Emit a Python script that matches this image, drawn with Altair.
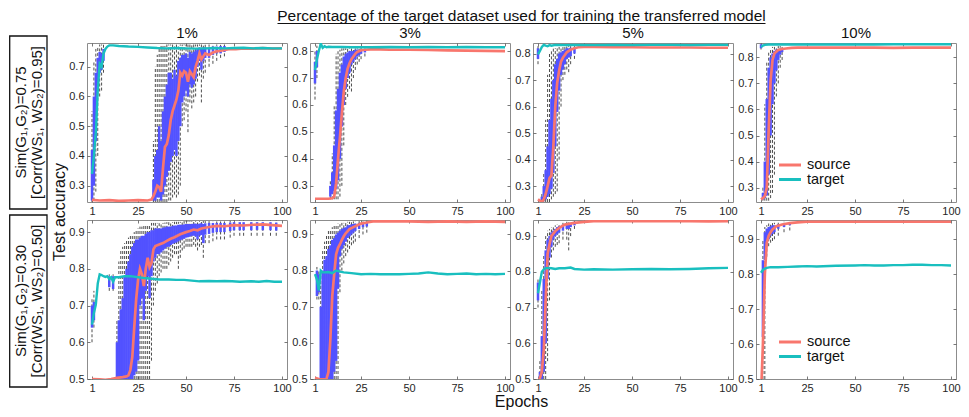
import altair as alt
import pandas as pd

SRC_COLOR = "#F8766D"
TGT_COLOR = "#19BFBF"
BOX_COLOR = "#5252ff"
FONT = "Liberation Sans"

main_title = "Percentage of the target dataset used for training the transferred model"
col_titles = ["1%", "3%", "5%", "10%"]
row_line1 = ["Sim(G\u2081,G\u2082)=0.75", "Sim(G\u2081,G\u2082)=0.30"]
row_line2 = ["[Corr(WS\u2081, WS\u2082)=0.95]", "[Corr(WS\u2081, WS\u2082)=0.50]"]
y_title = "Test accuracy"
x_title = "Epochs"
legend_labels = ["source", "target"]
x_ticks = [1, 25, 50, 75, 100]

# ---------- row 1 (Sim=0.75) ----------
p11_source = [(1,0.252),(5,0.250),(10,0.251),(15,0.249),(20,0.250),(25,0.251),(30,0.250),(32,0.253),
              (33,0.265),(34,0.280),(35,0.300),(36,0.295),(37,0.280),(38,0.360),(39,0.430),(40,0.440),
              (41,0.470),(42,0.520),(43,0.550),(44,0.570),(45,0.590),(46,0.620),(47,0.680),(48,0.670),
              (49,0.685),(50,0.680),(51,0.650),(52,0.685),(53,0.675),(54,0.665),(55,0.700),(56,0.720),
              (57,0.745),(58,0.725),(59,0.735),(60,0.745),(62,0.740),(64,0.748),(66,0.752),(68,0.754),
              (70,0.757),(73,0.760),(76,0.759),(80,0.762),(85,0.761),(90,0.763),(95,0.761),(100,0.762)]
p11_target = [(1,0.34),(2,0.40),(3,0.48),(4,0.62),(5,0.71),(6,0.70),(7,0.745),(8,0.76),(9,0.768),(10,0.772),
              (12,0.772),(15,0.770),(20,0.768),(25,0.767),(30,0.765),(35,0.763),(40,0.762),(45,0.763),
              (50,0.762),(55,0.761),(60,0.762),(65,0.763),(70,0.762),(75,0.763),(80,0.764),(85,0.762),
              (90,0.763),(95,0.762),(100,0.762)]
# (epoch, q1, q3, whisker low, whisker high)
p11_boxes = [(1,0.25,0.42,0.245,0.55),(2,0.30,0.60,0.25,0.72),(3,0.45,0.68,0.28,0.76),(4,0.62,0.73,0.40,0.77),
             (5,0.68,0.75,0.60,0.775),(6,0.69,0.745,0.62,0.775),(7,0.72,0.76,0.68,0.775),
             (33,0.25,0.32,0.245,0.45),(34,0.25,0.40,0.245,0.70),(35,0.26,0.42,0.245,0.74),(36,0.26,0.50,0.245,0.76),
             (37,0.25,0.45,0.245,0.77),(38,0.27,0.55,0.245,0.77),(39,0.30,0.60,0.245,0.77),(40,0.33,0.64,0.245,0.775),
             (41,0.35,0.68,0.25,0.775),(42,0.38,0.68,0.25,0.775),(43,0.40,0.66,0.26,0.775),(44,0.42,0.69,0.27,0.775),
             (45,0.40,0.67,0.26,0.775),(46,0.45,0.72,0.27,0.775),(47,0.50,0.73,0.30,0.775),(48,0.58,0.74,0.50,0.775),
             (49,0.60,0.74,0.52,0.775),(50,0.62,0.745,0.55,0.775),(51,0.60,0.73,0.48,0.775),(52,0.64,0.75,0.58,0.775),
             (53,0.63,0.745,0.56,0.775),(54,0.64,0.75,0.58,0.775),(55,0.66,0.755,0.60,0.775),(56,0.70,0.76,0.65,0.775),
             (57,0.72,0.765,0.67,0.775),(58,0.69,0.76,0.58,0.775),(59,0.72,0.765,0.66,0.775),(60,0.73,0.765,0.68,0.775),
             (62,0.73,0.765,0.70,0.775),(64,0.74,0.768,0.71,0.775),(66,0.745,0.768,0.72,0.775),(68,0.745,0.77,0.73,0.775),
             (70,0.75,0.77,0.735,0.775)]

p12_source = [(1,0.252),(5,0.252),(8,0.252),(10,0.254),(11,0.26),(12,0.31),(13,0.40),(14,0.48),(15,0.57),(16,0.65),
              (17,0.70),(18,0.735),(19,0.755),(20,0.77),(21,0.78),(22,0.79),(23,0.797),(25,0.803),(27,0.805),(30,0.806),
              (35,0.806),(40,0.805),(50,0.805),(60,0.804),(70,0.803),(80,0.802),(90,0.801),(100,0.80)]
p12_target = [(1,0.73),(2,0.77),(3,0.80),(4,0.828),(5,0.812),(6,0.818),(7,0.814),(8,0.816),(10,0.815),(15,0.815),
              (20,0.814),(30,0.814),(40,0.815),(50,0.814),(60,0.815),(70,0.814),(80,0.815),(90,0.814),(100,0.814)]
p12_boxes = [(1,0.68,0.76,0.62,0.80),(2,0.74,0.80,0.70,0.82),(9,0.26,0.30,0.25,0.32),(10,0.27,0.35,0.25,0.42),
             (11,0.28,0.45,0.25,0.60),(12,0.29,0.58,0.25,0.79),(13,0.32,0.66,0.25,0.80),(14,0.40,0.72,0.26,0.805),
             (15,0.52,0.75,0.30,0.81),(16,0.60,0.78,0.45,0.81),(17,0.66,0.79,0.60,0.81),(18,0.70,0.795,0.63,0.81),
             (19,0.72,0.80,0.66,0.81),(20,0.75,0.80,0.65,0.81),(21,0.76,0.80,0.70,0.81),(22,0.77,0.805,0.73,0.81),
             (23,0.78,0.805,0.75,0.81),(24,0.785,0.805,0.76,0.812),(25,0.79,0.806,0.77,0.812),(27,0.795,0.807,0.78,0.812)]

p13_source = [(1,0.25),(2,0.245),(3,0.24),(4,0.25),(5,0.27),(6,0.30),(7,0.33),(8,0.34),(9,0.45),(10,0.60),(11,0.69),
              (12,0.735),(13,0.77),(14,0.785),(15,0.795),(16,0.805),(18,0.815),(20,0.82),(22,0.824),(25,0.825),
              (30,0.825),(40,0.824),(50,0.824),(60,0.823),(70,0.823),(80,0.823),(90,0.822),(100,0.822)]
p13_target = [(1,0.797),(2,0.81),(3,0.825),(4,0.833),(5,0.83),(6,0.828),(7,0.832),(8,0.83),(10,0.833),(15,0.832),
              (20,0.833),(30,0.832),(40,0.833),(50,0.832),(60,0.833),(70,0.833),(80,0.832),(90,0.833),(100,0.833)]
p13_boxes = [(1,0.78,0.82,0.76,0.83),(3,0.24,0.26,0.24,0.27),(4,0.245,0.30,0.24,0.35),(5,0.25,0.36,0.24,0.55),
             (6,0.26,0.45,0.24,0.72),(7,0.27,0.55,0.24,0.80),(8,0.29,0.63,0.25,0.81),(9,0.35,0.70,0.26,0.82),
             (10,0.45,0.76,0.27,0.82),(11,0.58,0.78,0.28,0.82),(12,0.66,0.80,0.40,0.825),(13,0.72,0.805,0.60,0.825),
             (14,0.74,0.81,0.70,0.825),(15,0.76,0.815,0.72,0.825),(16,0.78,0.82,0.74,0.828),(17,0.785,0.82,0.73,0.828),
             (18,0.79,0.822,0.76,0.828),(20,0.80,0.823,0.78,0.828)]

p14_source = [(1,0.255),(2,0.26),(3,0.268),(4,0.30),(5,0.52),(6,0.71),(7,0.79),(8,0.815),(9,0.822),(10,0.828),
              (12,0.832),(14,0.834),(17,0.836),(20,0.837),(30,0.837),(40,0.837),(50,0.837),(60,0.837),(70,0.836),
              (80,0.837),(90,0.837),(100,0.837)]
p14_target = [(1,0.84),(2,0.845),(3,0.848),(5,0.849),(10,0.849),(20,0.849),(30,0.849),(40,0.849),(50,0.849),
              (60,0.849),(70,0.85),(80,0.85),(90,0.85),(100,0.85)]
p14_boxes = [(1,0.835,0.85,0.83,0.852),(2,0.255,0.28,0.25,0.30),(3,0.26,0.40,0.25,0.62),(4,0.27,0.64,0.25,0.78),
             (5,0.35,0.76,0.25,0.82),(6,0.50,0.80,0.26,0.835),(7,0.62,0.815,0.28,0.84),(8,0.70,0.825,0.35,0.84),
             (9,0.75,0.83,0.65,0.842),(10,0.79,0.832,0.70,0.843),(11,0.81,0.834,0.76,0.843),(12,0.82,0.835,0.79,0.844)]

# ---------- row 2 (Sim=0.30) ----------
p21_source = [(1,0.50),(5,0.499),(8,0.498),(11,0.50),(14,0.503),(17,0.505),(19,0.507),(20,0.51),(21,0.525),
              (22,0.56),(23,0.64),(24,0.716),(25,0.77),(26,0.80),(27,0.785),(28,0.753),(29,0.80),(30,0.83),
              (31,0.805),(32,0.816),(33,0.853),(34,0.862),(36,0.866),(38,0.87),(40,0.876),(42,0.882),(44,0.886),
              (47,0.894),(50,0.90),(52,0.903),(54,0.907),(56,0.905),(58,0.91),(62,0.914),(66,0.917),(70,0.916),
              (75,0.919),(80,0.918),(85,0.92),(90,0.921),(95,0.919),(100,0.917)]
p21_target = [(1,0.648),(2,0.68),(3,0.703),(4,0.76),(5,0.785),(6,0.783),(7,0.78),(8,0.778),(9,0.78),(10,0.772),
              (11,0.777),(12,0.765),(13,0.777),(15,0.777),(18,0.78),(21,0.78),(25,0.777),(28,0.775),(32,0.773),
              (36,0.771),(41,0.771),(45,0.77),(49,0.77),(53,0.768),(57,0.766),(62,0.767),(66,0.766),(70,0.767),
              (74,0.766),(78,0.765),(84,0.766),(88,0.765),(92,0.767),(96,0.765),(100,0.765)]
p21_boxes = [(1,0.64,0.70,0.60,0.72),(2,0.66,0.71,0.64,0.74),(10,0.75,0.78,0.74,0.785),(12,0.745,0.78,0.74,0.785),
             (14,0.50,0.60,0.50,0.66),(15,0.50,0.66,0.50,0.82),(16,0.50,0.69,0.50,0.85),(17,0.50,0.72,0.50,0.86),
             (18,0.50,0.78,0.50,0.87),(19,0.50,0.80,0.50,0.88),(20,0.50,0.82,0.50,0.885),(21,0.50,0.84,0.50,0.89),
             (22,0.50,0.86,0.50,0.895),(23,0.51,0.87,0.50,0.90),(24,0.52,0.88,0.50,0.905),(25,0.55,0.88,0.50,0.91),
             (26,0.70,0.885,0.50,0.915),(27,0.72,0.89,0.50,0.915),(28,0.66,0.89,0.50,0.92),(29,0.74,0.895,0.50,0.92),
             (30,0.78,0.90,0.50,0.92),(31,0.72,0.90,0.50,0.92),(32,0.78,0.905,0.55,0.925),(33,0.82,0.905,0.70,0.925),
             (34,0.83,0.91,0.74,0.925),(35,0.84,0.91,0.76,0.925),(36,0.84,0.91,0.78,0.925),(37,0.845,0.91,0.79,0.925),
             (38,0.85,0.912,0.80,0.925),(39,0.855,0.913,0.80,0.926),(40,0.86,0.915,0.80,0.927),(41,0.86,0.915,0.81,0.927),
             (42,0.865,0.915,0.82,0.927),(43,0.868,0.917,0.83,0.927),(44,0.87,0.918,0.84,0.928),(45,0.872,0.918,0.84,0.928),
             (46,0.875,0.92,0.80,0.928),(47,0.878,0.92,0.83,0.928),(48,0.88,0.92,0.85,0.928),(49,0.882,0.921,0.855,0.93),
             (50,0.885,0.922,0.86,0.93),(51,0.886,0.922,0.86,0.93),(52,0.888,0.922,0.86,0.93),(53,0.89,0.922,0.86,0.93),
             (54,0.89,0.923,0.865,0.93),(55,0.888,0.923,0.86,0.93),(56,0.88,0.922,0.85,0.93),(57,0.89,0.923,0.86,0.93),
             (58,0.892,0.924,0.865,0.93),(59,0.87,0.922,0.83,0.93),(60,0.893,0.924,0.87,0.93),(62,0.895,0.925,0.87,0.93),
             (64,0.898,0.925,0.875,0.93),(66,0.90,0.925,0.88,0.93),(68,0.90,0.925,0.88,0.93),(70,0.90,0.925,0.88,0.93),
             (73,0.903,0.926,0.885,0.931),(75,0.905,0.927,0.89,0.932),(78,0.905,0.927,0.89,0.932),(80,0.905,0.927,0.89,0.932),
             (84,0.905,0.927,0.89,0.932),(87,0.906,0.927,0.89,0.932),(90,0.905,0.927,0.89,0.932),(94,0.905,0.927,0.89,0.932),
             (97,0.904,0.926,0.89,0.932)]

p22_source = [(1,0.503),(3,0.50),(5,0.499),(7,0.50),(8,0.52),(9,0.61),(10,0.73),(11,0.79),(12,0.845),(13,0.863),
              (14,0.873),(15,0.885),(16,0.895),(17,0.903),(19,0.915),(22,0.923),(25,0.93),(28,0.933),(32,0.937),
              (40,0.936),(50,0.936),(60,0.935),(70,0.936),(80,0.935),(90,0.936),(100,0.935)]
p22_target = [(1,0.79),(2,0.775),(3,0.745),(4,0.80),(5,0.795),(6,0.795),(8,0.796),(10,0.793),(12,0.80),(14,0.797),
              (16,0.795),(20,0.793),(25,0.79),(30,0.791),(35,0.79),(40,0.79),(45,0.79),(50,0.791),(55,0.792),
              (60,0.795),(65,0.792),(70,0.79),(75,0.791),(80,0.792),(85,0.79),(90,0.791),(95,0.79),(100,0.791)]
p22_boxes = [(2,0.73,0.80,0.72,0.81),(3,0.74,0.79,0.72,0.80),(4,0.50,0.70,0.50,0.80),(5,0.50,0.80,0.50,0.86),
             (6,0.50,0.83,0.50,0.88),(7,0.50,0.84,0.50,0.90),(8,0.50,0.86,0.50,0.91),(9,0.50,0.87,0.50,0.915),
             (10,0.50,0.885,0.50,0.92),(11,0.52,0.89,0.50,0.925),(12,0.55,0.90,0.50,0.928),(13,0.75,0.905,0.50,0.93),
             (14,0.84,0.91,0.74,0.93),(15,0.86,0.915,0.80,0.932),(16,0.87,0.918,0.82,0.932),(17,0.88,0.92,0.84,0.933),
             (18,0.89,0.925,0.85,0.935),(19,0.895,0.926,0.86,0.935),(20,0.90,0.928,0.87,0.935),(21,0.905,0.929,0.875,0.936),
             (22,0.91,0.93,0.88,0.936),(24,0.915,0.932,0.89,0.937),(26,0.92,0.933,0.90,0.937),(28,0.922,0.934,0.905,0.938)]

p23_source = [(1,0.49),(2,0.503),(3,0.52),(4,0.58),(5,0.72),(6,0.85),(7,0.877),(8,0.90),(10,0.914),(12,0.923),
              (15,0.932),(20,0.937),(25,0.94),(30,0.942),(40,0.942),(50,0.942),(60,0.942),(70,0.942),(80,0.942),
              (90,0.941),(100,0.942)]
p23_target = [(1,0.74),(2,0.77),(3,0.80),(4,0.807),(5,0.81),(6,0.811),(8,0.81),(10,0.808),(12,0.81),(15,0.81),
              (18,0.812),(20,0.808),(25,0.806),(30,0.807),(40,0.806),(50,0.807),(60,0.808),(70,0.807),(80,0.808),
              (90,0.81),(100,0.811)]
p23_boxes = [(1,0.72,0.77,0.70,0.78),(2,0.50,0.52,0.50,0.55),(3,0.50,0.62,0.50,0.75),(4,0.52,0.78,0.50,0.85),
             (5,0.60,0.86,0.50,0.90),(6,0.78,0.89,0.55,0.915),(7,0.84,0.90,0.72,0.92),(8,0.87,0.91,0.84,0.925),
             (9,0.89,0.915,0.86,0.93),(10,0.90,0.92,0.87,0.93),(11,0.905,0.925,0.875,0.932),(12,0.91,0.928,0.88,0.935),
             (14,0.915,0.932,0.89,0.937),(16,0.92,0.935,0.89,0.94),(17,0.92,0.935,0.86,0.94),(18,0.925,0.937,0.90,0.941),
             (20,0.93,0.94,0.92,0.943)]

p24_source = [(1,0.45),(2,0.60),(3,0.80),(4,0.89),(5,0.91),(6,0.92),(7,0.928),(9,0.937),(12,0.942),(16,0.946),
              (20,0.948),(25,0.95),(30,0.95),(40,0.95),(50,0.95),(60,0.95),(70,0.95),(80,0.95),(90,0.95),(100,0.95)]
p24_target = [(1,0.804),(2,0.812),(3,0.816),(4,0.818),(6,0.82),(10,0.82),(15,0.821),(20,0.822),(25,0.823),
              (30,0.822),(40,0.824),(50,0.825),(55,0.826),(60,0.825),(65,0.825),(70,0.826),(75,0.826),(80,0.827),
              (85,0.827),(90,0.826),(95,0.826),(100,0.825)]
p24_boxes = [(2,0.62,0.84,0.50,0.90),(3,0.84,0.92,0.50,0.935),(4,0.89,0.93,0.85,0.94),(5,0.90,0.935,0.88,0.945),
             (6,0.91,0.937,0.89,0.945),(7,0.915,0.94,0.895,0.946),(8,0.92,0.94,0.90,0.947),(10,0.93,0.943,0.91,0.948),
             (13,0.935,0.945,0.92,0.95),(16,0.94,0.948,0.925,0.952)]

y_domains = [[0.245, 0.78], [0.24, 0.83], [0.24, 0.84], [0.245, 0.855],
             [0.5, 0.933], [0.5, 0.94], [0.5, 0.945], [0.5, 0.955]]
y_ticks_r1c1 = [0.3, 0.4, 0.5, 0.6, 0.7]
y_ticks_r1 = [0.3, 0.4, 0.5, 0.6, 0.7, 0.8]
y_ticks_r2 = [0.5, 0.6, 0.7, 0.8, 0.9]

PW, PH = 200, 159
GAP_X, GAP_Y = 23, 18
STRIP_W = 55
GRID_W = 4 * PW + 3 * GAP_X
CX = STRIP_W + GAP_X + GRID_W / 2   # centre of the panel block, in strip coordinates


def axis(orient, values, labels, fmt):
    kw = dict(orient=orient, values=values, offset=-3, tickSize=3, domain=False, grid=False,
              title=None, tickColor="#555555", tickWidth=0.8)
    if labels:
        kw.update(labelFontSize=11, labelFont=FONT, labelColor="#262626", labelPadding=3,
                  format=fmt, labelFlush=False)
    else:
        kw.update(labels=False)
    return alt.Axis(**kw)


def panel(source, target, boxes, ydom, yticks, title=None, legend=False):
    xs = alt.Scale(domain=[1, 100], nice=False, zero=False)
    ys = alt.Scale(domain=ydom, nice=False, zero=False)
    sdf = pd.DataFrame(source, columns=["epoch", "acc"])
    tdf = pd.DataFrame(target, columns=["epoch", "acc"])
    bdf = pd.DataFrame(boxes, columns=["epoch", "q1", "q3", "lo", "hi"])

    whisk = alt.Chart(bdf).mark_rule(strokeDash=[3, 2], color="#3a3a3a", strokeWidth=0.9, clip=True).encode(
        x=alt.X("epoch:Q", scale=xs, axis=axis("bottom", x_ticks, True, "d")),
        y=alt.Y("lo:Q", scale=ys, axis=axis("left", yticks, True, ".1f")),
        y2="hi:Q")
    bars = alt.Chart(bdf).mark_bar(size=2.5, color=BOX_COLOR, opacity=1, clip=True).encode(
        x=alt.X("epoch:Q", scale=xs, axis=None),
        y=alt.Y("q1:Q", scale=ys, axis=None),
        y2="q3:Q")
    src = alt.Chart(sdf).mark_line(color=SRC_COLOR, strokeWidth=2.7, clip=True).encode(
        x=alt.X("epoch:Q", scale=xs, axis=None),
        y=alt.Y("acc:Q", scale=ys, axis=None))
    tgt = alt.Chart(tdf).mark_line(color=TGT_COLOR, strokeWidth=2.4, clip=True).encode(
        x=alt.X("epoch:Q", scale=xs, axis=None),
        y=alt.Y("acc:Q", scale=ys, axis=None))
    frame = alt.Chart(sdf).mark_point(opacity=0).encode(
        x=alt.X("epoch:Q", scale=xs, axis=axis("top", x_ticks, False, "d")),
        y=alt.Y("acc:Q", scale=ys, axis=axis("right", yticks, False, ".1f")))
    layers = [whisk, bars, src, tgt, frame]
    if legend:
        ldf = pd.DataFrame({"label": legend_labels})
        for i, (lab, col) in enumerate(zip(legend_labels, [SRC_COLOR, TGT_COLOR])):
            ypos = 122 + 14.5 * i
            one = ldf[ldf["label"] == lab]
            layers.append(alt.Chart(one).mark_rule(color=col, strokeWidth=3).encode(
                x=alt.value(23), x2=alt.value(45), y=alt.value(ypos)))
            layers.append(alt.Chart(one).mark_text(align="left", baseline="middle", fontSize=14.5,
                                                   font=FONT, color="#111111").encode(
                x=alt.value(51), y=alt.value(ypos), text="label:N"))
    ch = alt.layer(*layers).resolve_axis(x="independent", y="independent").properties(
        width=PW, height=PH, view=alt.ViewBackground(stroke="#8c8c8c", strokeWidth=1))
    if title:
        ch = ch.properties(title=alt.TitleParams(title, fontSize=15, font=FONT, fontWeight="normal",
                                                 color="#111111", offset=2))
    return ch


def strip(r):
    one = pd.DataFrame({"k": [0]})
    top, bot = (-7, 166) if r == 0 else (-5, 167)
    mid = (top + bot) / 2
    layers = [alt.Chart(one).mark_rect(fillOpacity=0, stroke="#111111", strokeWidth=1.3).encode(
        x=alt.value(0.7), x2=alt.value(38), y=alt.value(top), y2=alt.value(bot))]
    for txt, xpos in [(row_line1[r], 11.5), (row_line2[r], 28)]:
        layers.append(alt.Chart(pd.DataFrame({"t": [txt]})).mark_text(
            angle=270, align="center", baseline="middle", fontSize=15, font=FONT, color="#111111").encode(
            x=alt.value(xpos), y=alt.value(mid), text="t:N"))
    if r == 0:
        # shared y title, main title with underline
        layers.append(alt.Chart(pd.DataFrame({"t": [y_title]})).mark_text(
            angle=270, align="center", baseline="middle", fontSize=16, font=FONT, color="#111111").encode(
            x=alt.value(51), y=alt.value(169), text="t:N"))
        layers.append(alt.Chart(pd.DataFrame({"t": [main_title]})).mark_text(
            align="center", baseline="alphabetic", fontSize=15.5, font=FONT, color="#111111").encode(
            x=alt.value(CX), y=alt.value(-22.5), text="t:N"))
        layers.append(alt.Chart(one).mark_rule(color="#111111", strokeWidth=1).encode(
            x=alt.value(CX - 244), x2=alt.value(CX + 244), y=alt.value(-19.5)))
    else:
        layers.append(alt.Chart(pd.DataFrame({"t": [x_title]})).mark_text(
            align="center", baseline="alphabetic", fontSize=16, font=FONT, color="#111111").encode(
            x=alt.value(CX), y=alt.value(187), text="t:N"))
    return alt.layer(*layers).properties(width=STRIP_W, height=PH)


rows_data = [
    [(p11_source, p11_target, p11_boxes), (p12_source, p12_target, p12_boxes),
     (p13_source, p13_target, p13_boxes), (p14_source, p14_target, p14_boxes)],
    [(p21_source, p21_target, p21_boxes), (p22_source, p22_target, p22_boxes),
     (p23_source, p23_target, p23_boxes), (p24_source, p24_target, p24_boxes)],
]

cells = []
for r in range(2):
    cells.append(strip(r))
    for c in range(4):
        s, t, b = rows_data[r][c]
        if r == 0:
            yt = y_ticks_r1c1 if c == 0 else y_ticks_r1
        else:
            yt = y_ticks_r2
        cells.append(panel(s, t, b, y_domains[r * 4 + c], yt,
                           title=col_titles[c] if r == 0 else None, legend=(c == 3)))

chart = alt.concat(*cells, columns=5, spacing={"row": GAP_Y, "column": GAP_X}, bounds="flush").properties(
    padding=0).configure_view(stroke="transparent")

chart.save("out.html", embed_options={"renderer": "svg", "actions": False})
